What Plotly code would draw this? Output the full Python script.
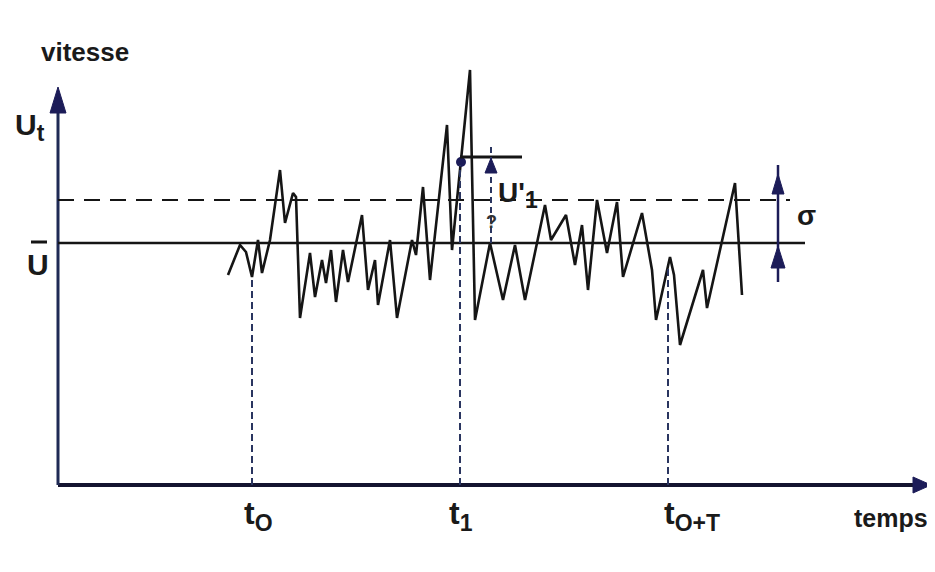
import plotly.graph_objects as go

# ---- data (time / velocity in arbitrary units, origin at axes crossing) ----
t_signal = [170, 182, 188, 194, 200, 204, 212, 222, 227, 235, 238, 242, 252, 257, 264, 268,
            273, 278, 285, 290, 304, 310, 317, 320, 332, 339, 354, 358, 365, 372, 389, 394,
            412, 417, 432, 445, 457, 467, 487, 493, 508, 517, 524, 530, 539, 549, 559, 565,
            584, 594, 598, 612, 616, 622, 645, 649, 677, 684]
u_signal = [210, 240, 233, 208, 245, 212, 245, 315, 262, 292, 288, 167, 232, 188, 225, 202,
            235, 183, 235, 203, 270, 195, 225, 180, 245, 167, 245, 230, 298, 205, 360, 235,
            415, 165, 242, 185, 240, 185, 280, 245, 270, 220, 260, 195, 285, 232, 283, 208,
            272, 215, 165, 228, 210, 140, 215, 177, 302, 190]

u_mean = 242          # U-bar
sigma = 43            # standard deviation
t_marks = [194, 402, 610]
u_marks_top = [208, 320, 217]
SUB = "<sub><span style='font-size:23px'>{}</span></sub>"
t_labels = ["t" + SUB.format("O"), "t" + SUB.format("1"), "t" + SUB.format("O+T")]
t_label_pos = [184, 389, 604]
t1_value = 323        # U at t1 (dot)
t_sigma = 720

x_axis_end = 873
y_axis_end = 398

ink = "#151515"
navy = "#1c1c58"
FONT = "Liberation Sans, Arial, sans-serif"

fig = go.Figure()

# axes
fig.add_shape(type="line", x0=0, y0=0, x1=x_axis_end - 12, y1=0,
              line=dict(color="#141430", width=4))
fig.add_shape(type="line", x0=0, y0=0, x1=0, y1=y_axis_end - 12,
              line=dict(color="#1f2a55", width=3))


def tri(xc, tip, length, hw, direction):
    if direction == "up":
        return f"M{xc - hw},{tip - length} L{xc + hw},{tip - length} L{xc},{tip} Z"
    return f"M{tip - length},{xc - hw} L{tip - length},{xc + hw} L{tip},{xc} Z"


fig.add_shape(type="path", path=tri(0, y_axis_end, 26, 8, "up"),
              fillcolor=navy, line=dict(color=navy, width=1))
fig.add_shape(type="path", path=tri(0, x_axis_end, 18, 8, "right"),
              fillcolor=navy, line=dict(color=navy, width=1))

# mean and mean+sigma lines
fig.add_shape(type="line", x0=0, y0=u_mean, x1=747, y1=u_mean,
              line=dict(color=ink, width=2.5))
fig.add_shape(type="line", x0=0, y0=u_mean + sigma, x1=732, y1=u_mean + sigma,
              line=dict(color=ink, width=2, dash="16px,10px"))

# vertical dashed markers at t0, t1, t0+T
for tm, top in zip(t_marks, u_marks_top):
    fig.add_shape(type="line", x0=tm, y0=0, x1=tm, y1=top,
                  line=dict(color="#2a3560", width=2, dash="7px,4px"))

# signal
fig.add_trace(go.Scatter(x=t_signal, y=u_signal, mode="lines",
                         line=dict(color=ink, width=2.6), hoverinfo="skip"))

# U'1 annotation
fig.add_shape(type="line", x0=402, y0=t1_value + 5, x1=464, y1=t1_value + 5,
              line=dict(color=ink, width=3))
fig.add_shape(type="line", x0=433, y0=u_mean, x1=433, y1=t1_value + 17,
              line=dict(color="#2a3560", width=2, dash="6px,4px"))
fig.add_shape(type="path", path=tri(433, t1_value + 4, 15, 6, "up"),
              fillcolor=navy, line=dict(color=navy, width=1))
fig.add_trace(go.Scatter(x=[403], y=[t1_value], mode="markers",
                         marker=dict(color=navy, size=10), hoverinfo="skip"))

# sigma arrow
fig.add_shape(type="line", x0=t_sigma, y0=u_mean - 39, x1=t_sigma, y1=u_mean + sigma + 35,
              line=dict(color=navy, width=2.5))
fig.add_shape(type="path", path=tri(t_sigma, u_mean + sigma + 26, 20, 6, "up"),
              fillcolor=navy, line=dict(color=navy, width=1))
fig.add_shape(type="path", path=tri(t_sigma, u_mean - 3, 22, 7, "up"),
              fillcolor=navy, line=dict(color=navy, width=1))

# U-bar overline
fig.add_shape(type="line", x0=-27, y0=u_mean + 1, x1=-11, y1=u_mean + 1,
              line=dict(color=ink, width=3))

ann = []


def txt(x, y, s, size, xanchor="center", color="#1a1a1a"):
    ann.append(dict(x=x, y=y, text=s, showarrow=False, xanchor=xanchor, yanchor="middle",
                    font=dict(family=FONT, size=size, color=color, weight="bold")))


txt(27, 433, "vitesse", 26)
txt(-45, 358, "U" + SUB.format("t"), 30, xanchor="left")
txt(-20, 221, "U", 30)
for xl, lab in zip(t_label_pos, t_labels):
    txt(xl, -30, lab, 32, xanchor="left")
txt(833, -33, "temps", 25)
txt(460, 290, "U'" + SUB.format("1"), 28)
txt(433, 263, "?", 18, color="#333")
txt(748, 270, "σ", 28)

fig.update_layout(
    width=927, height=564,
    margin=dict(l=0, r=0, t=0, b=0),
    paper_bgcolor="white", plot_bgcolor="white",
    showlegend=False,
    annotations=ann,
    xaxis=dict(range=[-50, 877], visible=False, fixedrange=True),
    yaxis=dict(range=[-87, 477], visible=False, fixedrange=True),
)

fig.write_html("out.html")
